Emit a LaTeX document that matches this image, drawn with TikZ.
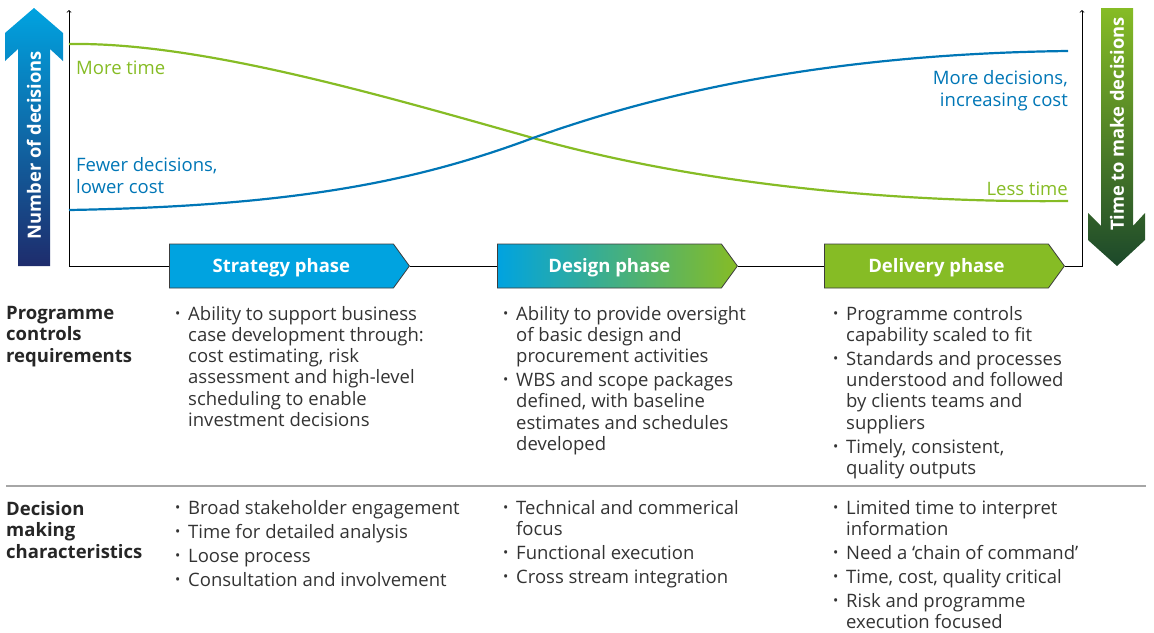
\documentclass[tikz,border=0pt]{standalone}
\usepackage{fontspec}
\setmainfont{Open Sans}
\usepackage{xcolor}
\usepackage{tikz}
\usetikzlibrary{arrows,shapes.symbols}

\definecolor{dblue}{RGB}{0,163,224}
\definecolor{dgreen}{RGB}{134,188,37}
\definecolor{cblue}{RGB}{0,118,182}
\definecolor{navy}{RGB}{30,44,108}
\definecolor{midblue}{RGB}{0,84,156}
\definecolor{dkgreen}{RGB}{28,72,42}
\definecolor{midgreen}{RGB}{60,128,52}
\definecolor{txt}{RGB}{51,51,51}
\definecolor{edge}{RGB}{60,60,60}

\newcommand{\bitem}[1]{\par\hangindent=13pt\hangafter=1\noindent\makebox[13pt][l]{\raisebox{0.2ex}{\fontsize{14}{14}\selectfont\textbullet}}#1}
\newcommand{\gap}{\par\vspace{2.7pt}}
\newcommand{\blist}[1]{\parbox[t]{330pt}{\raggedright\hyphenpenalty=10000 #1}}

\tikzset{
  body/.style={text=txt, font=\fontsize{18.5}{21.3}\selectfont, inner sep=0pt, anchor=base west},
  rowlab/.style={text=black!85, font=\fontsize{18.5}{21.3}\selectfont\bfseries, align=left, inner sep=0pt, anchor=base west},
  phase/.style={signal, signal to=east, signal pointer angle=108, draw=edge, line width=0.8pt,
    minimum height=44pt, minimum width=240pt, inner sep=0pt, text=white,
    text height=16pt, text depth=4pt,
    font=\fontsize{18.5}{20}\selectfont\bfseries},
  bigarrow/.style={text=white, font=\fontsize{18.3}{20}\selectfont\bfseries, rotate=90, inner sep=0pt},
  curvelab/.style={font=\fontsize{18.5}{21.3}\selectfont, inner sep=0pt, align=left}
}

\begin{document}
\begin{tikzpicture}[x=1pt,y=-1pt]
\useasboundingbox (0,0) rectangle (1154,632);
% большие стрелки
\shade[top color=dblue, middle color=midblue, bottom color=navy]
  (34,8) -- (63,33) -- (63,61) -- (50,49) -- (50,266) -- (18,266) -- (18,49) -- (5,61) -- (5,33) -- cycle;
\node (ndec) [bigarrow] at (34,145) {Number of decisions};
\shade[top color=dgreen, middle color=midgreen, bottom color=dkgreen]
  (1101,8) -- (1133,8) -- (1133,226) -- (1145,213) -- (1145,240) -- (1117,266) -- (1088,240) -- (1088,213) -- (1101,226) -- cycle;
\node (tdec) [bigarrow] at (1117,124) {Time to make decisions};
% фазы
\node (strat) [phase, fill=dblue, anchor=west] at (169,266) {Strategy phase};
\node (design) [phase, left color=dblue, right color=dgreen, anchor=west] at (497,266) {Design phase};
\node (deliv) [phase, fill=dgreen, anchor=west] at (824,266) {Delivery phase};
% оси
\coordinate (org) at (69,266);
\coordinate (ltop) at (69,10);
\coordinate (rbot) at (1082,266);
\coordinate (rtop) at (1082,10);
\draw [->, line width=0.8pt] (org) -- (ltop);
\draw [line width=0.8pt] (org) -- (strat.west);
\draw [line width=0.8pt] (strat.east) -- (design.west);
\draw [line width=0.8pt] (design.east) -- (deliv.west);
\draw [->, line width=0.8pt] (deliv.east) -- (rbot) -- (rtop);
% кривые
\draw [dgreen, line width=2.2pt] (69,44) .. controls (200,42) and (380,95) .. (533,138)
  .. controls (700,185) and (900,203) .. (1068,201);
\draw [cblue, line width=2.2pt] (69,210) .. controls (300,206) and (420,180) .. (533,138)
  .. controls (650,96) and (820,54) .. (1068,51);
% подписи кривых
\node (more) [curvelab, text=dgreen, anchor=base west] at (76,74) {More time};
\node (fewer) [curvelab, text=cblue, anchor=base west] at (76,193) {Fewer decisions,\\lower cost};
\node (moredec) [curvelab, text=cblue, align=right, anchor=base east] at (1068,106) {More decisions,\\increasing cost};
\node (less) [curvelab, text=dgreen, anchor=base east] at (1068,195) {Less time};
% строки таблицы
\node (req) [rowlab] at (6,362) {Programme\\controls\\requirements};
\node (dmc) [rowlab] at (6,558) {Decision\\making\\characteristics};
\draw [black!35, line width=1.2pt] (6,486) -- (1146,486);
\node (req1) [body] at (175,320) {\blist{%
  \bitem{Ability to support business\newline case development through:\newline cost estimating, risk\newline assessment and high-level\newline scheduling to enable\newline investment decisions}}};
\node (req2) [body] at (503,320) {\blist{%
  \bitem{Ability to provide oversight\newline of basic design and\newline procurement activities}\gap
  \bitem{WBS and scope packages\newline defined, with baseline\newline estimates and schedules\newline developed}}};
\node (req3) [body] at (833,320) {\blist{%
  \bitem{Programme controls\newline capability scaled to fit}\gap
  \bitem{Standards and processes\newline understood and followed\newline by clients teams and\newline suppliers}\gap
  \bitem{Timely, consistent,\newline quality outputs}}};
\node (dmc1) [body] at (175,514) {\blist{%
  \bitem{Broad stakeholder engagement}\gap
  \bitem{Time for detailed analysis}\gap
  \bitem{Loose process}\gap
  \bitem{Consultation and involvement}}};
\node (dmc2) [body] at (503,514) {\blist{%
  \bitem{Technical and commerical\newline focus}\gap
  \bitem{Functional execution}\gap
  \bitem{Cross stream integration}}};
\node (dmc3) [body] at (833,514) {\blist{%
  \bitem{Limited time to interpret\newline information}\gap
  \bitem{Need a ‘chain of command’}\gap
  \bitem{Time, cost, quality critical}\gap
  \bitem{Risk and programme\newline execution focused}}};
\end{tikzpicture}
\end{document}
